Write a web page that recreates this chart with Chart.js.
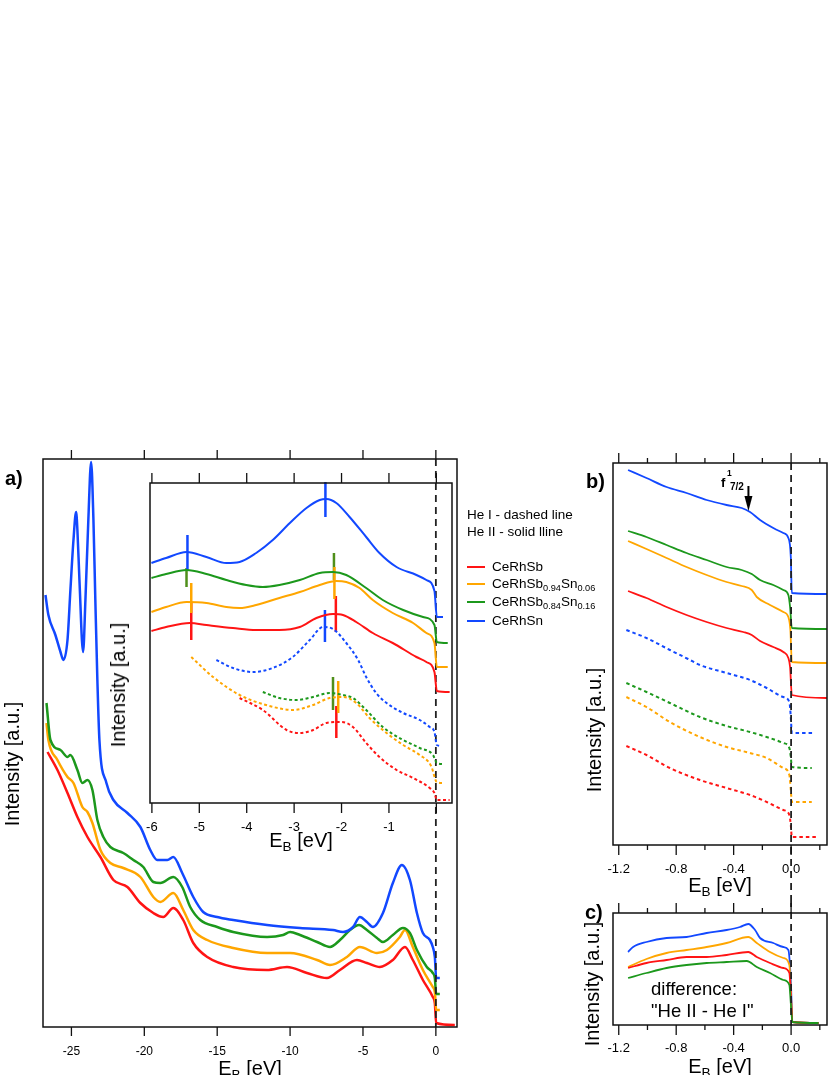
<!DOCTYPE html>
<html>
<head>
<meta charset="utf-8">
<script src="https://cdn.jsdelivr.net/npm/chart.js@4.4.0/dist/chart.umd.min.js"></script>
<style>
  body { margin: 0; background: #fff; }
  #page { position: relative; width: 830px; height: 1075px; overflow: hidden;
          font-family: 'Liberation Sans', Arial, Helvetica, sans-serif; color: #000; }
  canvas { position: absolute; }
  .t { position: absolute; white-space: nowrap; line-height: 1; }
  .rot { transform: translate(-50%, -50%) rotate(-90deg); font-size: 20px; }
  .ttl { transform: translateX(-50%); font-size: 20px; }
  .sub { font-size: 0.68em; position: relative; top: 0.3em; }
  .lg { font-size: 13.5px; }
  .key { position: absolute; left: 467px; width: 18px; height: 2px; }
  .pl { font-size: 20px; font-weight: bold; }
</style>
</head>
<body>
<div id="page">
  <canvas id="mainChart" width="470" height="635" style="left:0;top:440px"></canvas>
  <canvas id="insetChart" width="350" height="400" style="left:120px;top:460px"></canvas>
  <canvas id="bChart" width="250" height="455" style="left:580px;top:445px"></canvas>
  <canvas id="cChart" width="250" height="175" style="left:580px;top:900px"></canvas>

  <div class="t pl" style="left:5px;top:468px">a)</div>
  <div class="t pl" style="left:586px;top:471px">b)</div>
  <div class="t pl" style="left:585px;top:902px">c)</div>

  <div class="t rot" style="left:12px;top:764px">Intensity [a.u.]</div>
  <div class="t rot" style="left:118px;top:685px">Intensity [a.u.]</div>
  <div class="t rot" style="left:594px;top:730px">Intensity [a.u.]</div>
  <div class="t rot" style="left:592px;top:984px">Intensity [a.u.]</div>

  <div class="t ttl" style="left:250px;top:1058px">E<span class="sub">B</span> [eV]</div>
  <div class="t ttl" style="left:301px;top:830px">E<span class="sub">B</span> [eV]</div>
  <div class="t ttl" style="left:720px;top:875px">E<span class="sub">B</span> [eV]</div>
  <div class="t ttl" style="left:720px;top:1056px">E<span class="sub">B</span> [eV]</div>

  <div class="t lg" style="left:467px;top:508px">He I - dashed line</div>
  <div class="t lg" style="left:467px;top:525px">He II - solid lline</div>
  <div class="key" style="top:566px;background:#ff1414"></div>
  <div class="key" style="top:583px;background:#ffa600"></div>
  <div class="key" style="top:601px;background:#1c981c"></div>
  <div class="key" style="top:620px;background:#1248ff"></div>
  <div class="t lg" style="left:492px;top:560px">CeRhSb</div>
  <div class="t lg" style="left:492px;top:577px">CeRhSb<span class="sub">0.94</span>Sn<span class="sub">0.06</span></div>
  <div class="t lg" style="left:492px;top:595px">CeRhSb<span class="sub">0.84</span>Sn<span class="sub">0.16</span></div>
  <div class="t lg" style="left:492px;top:614px">CeRhSn</div>

  <div class="t" style="left:721px;top:476px;font-size:13px;font-weight:bold">f</div>
  <div class="t" style="left:727px;top:469px;font-size:8.5px;font-weight:bold">1</div>
  <div class="t" style="left:730px;top:482px;font-size:10px;font-weight:bold">7/2</div>

  <div class="t" style="left:651px;top:980px;font-size:18.5px">difference:</div>
  <div class="t" style="left:651px;top:1002px;font-size:18.5px">"He II - He I"</div>
</div>

<script>
// ---- panel a) He II valence band, wide range ----
const mainE_sn = [-26.78, -26.58, -26.1, -25.75, -25.55, -25.27, -25.07, -24.86, -24.68, -24.59, -24.45, -24.2, -24.04, -23.84, -23.65, -23.49, -23.36, -23.22, -23.08, -22.6, -22.12, -21.16, -20.27, -19.59, -19.11, -18.42, -18.01, -17.4, -16.64, -15.96, -15.0, -13.9, -11.58, -9.32, -7.05, -6.37, -5.68, -5.21, -4.73, -4.32, -3.63, -2.95, -2.33, -1.78, -1.3, -0.89, -0.41, -0.21, -0.07, 0.02, 0.27];
const mainI_sn = [432, 412, 392, 375, 367, 387, 437, 487, 515, 497, 447, 375, 427, 507, 565, 507, 427, 347, 287, 244, 227, 214, 200, 177, 167, 167, 170, 154, 130, 115, 110, 107, 102, 99, 97, 95, 100, 110, 105, 100, 114, 144, 162, 147, 114, 94, 87, 80, 70, 49, 49];
const mainE_sb84 = [-26.71, -26.44, -25.75, -25.27, -25.07, -24.59, -24.25, -23.9, -23.56, -23.22, -22.81, -22.33, -21.44, -20.75, -20.07, -19.38, -18.9, -18.01, -17.4, -16.85, -16.16, -15.0, -13.9, -11.58, -10.48, -10.0, -9.32, -8.15, -7.26, -6.58, -5.89, -5.27, -4.73, -4.04, -3.63, -2.95, -2.26, -1.78, -1.3, -0.62, -0.21, -0.07, 0.02, 0.27];
const mainI_sb84 = [324, 287, 277, 270, 272, 257, 244, 247, 237, 207, 190, 180, 174, 167, 160, 145, 144, 150, 140, 120, 107, 100, 95, 90, 92, 95, 92, 85, 80, 87, 97, 102, 97, 89, 85, 92, 99, 94, 77, 60, 54, 49, 33, 33];
const mainE_sb94 = [-26.71, -26.58, -25.96, -25.27, -24.86, -24.25, -23.9, -23.56, -23.01, -22.33, -21.44, -20.27, -19.38, -18.9, -18.01, -17.33, -16.64, -15.68, -13.9, -11.58, -10.0, -8.15, -7.26, -6.1, -5.21, -4.04, -3.36, -2.47, -2.12, -1.58, -0.89, -0.21, -0.07, 0.02, 0.27];
const mainI_sb94 = [304, 287, 267, 250, 244, 220, 215, 204, 177, 164, 159, 150, 130, 125, 134, 117, 97, 87, 79, 74, 74, 67, 62, 70, 80, 74, 77, 90, 97, 80, 57, 40, 35, 17, 17];
const mainE_sb = [-26.64, -25.96, -25.27, -24.59, -23.9, -23.01, -22.12, -21.16, -20.27, -19.38, -18.7, -18.01, -17.33, -16.64, -15.68, -13.9, -11.58, -10.21, -8.84, -7.47, -6.58, -5.41, -4.73, -3.84, -2.95, -2.12, -1.58, -0.89, -0.21, -0.07, 0.02, 1.3];
const mainI_sb = [275, 257, 234, 210, 190, 170, 147, 140, 124, 114, 110, 119, 107, 84, 70, 60, 57, 60, 54, 49, 57, 67, 64, 60, 67, 80, 67, 47, 30, 24, 4, 2];

// ---- inset: He II (solid) and He I (dashed) ----
const insE_sn = [-6.01, -5.70, -5.27, -4.85, -4.43, -4.15, -3.80, -3.45, -3.09, -2.74, -2.46, -2.32, -2.11, -1.83, -1.48, -1.20, -0.84, -0.42, -0.21, -0.04, 0.01, 0.14];
const insI_sn = [240, 245, 251, 246, 240, 241, 250, 263, 280, 295, 303, 304, 300, 286, 266, 250, 236, 228, 223, 212, 186, 186];
const insE_sb84 = [-6.01, -5.70, -5.27, -4.85, -4.43, -4.01, -3.66, -3.31, -2.88, -2.46, -2.18, -1.90, -1.48, -1.13, -0.70, -0.28, -0.04, 0.01, 0.24];
const insI_sb84 = [225, 229, 233, 229, 223, 218, 216, 218, 223, 230, 231, 228, 215, 203, 193, 186, 178, 161, 160];
const insE_sb94 = [-6.01, -5.70, -5.27, -4.85, -4.43, -4.15, -3.80, -3.31, -2.88, -2.46, -2.11, -1.90, -1.62, -1.34, -0.92, -0.49, -0.21, -0.04, 0.01, 0.24];
const insI_sb94 = [191, 196, 201, 200, 196, 195, 198, 205, 211, 218, 222, 221, 215, 203, 190, 180, 170, 160, 136, 136];
const insE_sb = [-6.01, -5.70, -5.20, -4.85, -4.29, -3.80, -3.31, -2.88, -2.53, -2.18, -1.97, -1.69, -1.34, -0.92, -0.42, -0.21, -0.04, 0.01, 0.28];
const insI_sb = [172, 176, 180, 178, 175, 173, 173, 176, 185, 189, 188, 181, 170, 160, 146, 141, 131, 112, 111];

const heE_sn = [-4.64, -4.29, -3.87, -3.45, -3.03, -2.67, -2.39, -2.18, -1.90, -1.65, -1.48, -1.27, -1.05, -0.70, -0.35, -0.14, -0.04, 0.01, 0.11];
const heI_sn = [143, 135, 131, 135, 146, 163, 176, 174, 160, 143, 126, 110, 100, 90, 83, 76, 71, 58, 57];
const heE_sb84 = [-3.66, -3.31, -2.95, -2.60, -2.25, -1.97, -1.76, -1.48, -1.13, -0.70, -0.35, -0.07, 0.01, 0.14];
const heI_sb84 = [111, 105, 103, 106, 110, 108, 105, 93, 76, 63, 55, 48, 40, 39];
const heE_sb94 = [-5.17, -4.71, -4.15, -3.59, -3.03, -2.60, -2.25, -1.97, -1.69, -1.41, -1.05, -0.70, -0.35, -0.11, 0.01, 0.14];
const heI_sb94 = [146, 126, 108, 98, 93, 98, 105, 106, 100, 85, 70, 58, 48, 37, 21, 20];
const heE_sb = [-4.15, -3.66, -3.16, -2.88, -2.60, -2.32, -2.00, -1.76, -1.48, -1.20, -0.84, -0.49, -0.14, -0.04, 0.01, 0.28];
const heI_sb = [105, 93, 73, 70, 73, 80, 81, 76, 60, 46, 33, 25, 15, 10, 3, 3];

// peak markers in the inset (energy, bar top, bar bottom)
const peakE_sn = [-5.25, -2.34], peakTop_sn = [268, 321], peakBot_sn = [233, 286];
const peakE_sb84 = [-5.27, -2.16], peakTop_sb84 = [235, 250], peakBot_sb84 = [216, 223];
const peakE_sb94 = [-5.17, -2.15], peakTop_sb94 = [220, 236], peakBot_sb94 = [190, 204];
const peakE_sb = [-5.17, -2.12], peakTop_sb = [200, 207], peakBot_sb = [163, 171];
const hePeakE = [-2.35, -2.18, -2.07, -2.11];
const hePeakTop = [193, 126, 122, 97];
const hePeakBot = [161, 93, 90, 65];

// ---- panel b) near E_F ----
const bE_sn = [-1.135, -1.007, -0.867, -0.728, -0.588, -0.449, -0.344, -0.286, -0.216, -0.124, -0.054, -0.019, -0.002, 0.005, 0.249];
const bI_sn = [375, 367, 358, 352, 345, 340, 337, 333, 325, 317, 312, 307, 288, 252, 251];
const bE_sb84 = [-1.135, -1.007, -0.867, -0.728, -0.588, -0.449, -0.344, -0.274, -0.216, -0.124, -0.054, -0.019, -0.007, 0.005, 0.249];
const bI_sb84 = [314, 308, 300, 292, 285, 278, 275, 271, 265, 260, 255, 250, 238, 217, 216];
const bE_sb94 = [-1.135, -1.007, -0.867, -0.728, -0.588, -0.449, -0.344, -0.274, -0.239, -0.147, -0.054, -0.019, -0.005, 0.005, 0.249];
const bI_sb94 = [304, 296, 287, 278, 270, 263, 259, 255, 248, 240, 233, 228, 215, 183, 182];
const bE_sb = [-1.135, -1.007, -0.867, -0.728, -0.588, -0.449, -0.333, -0.274, -0.216, -0.124, -0.054, -0.019, -0.007, 0.005, 0.249];
const bI_sb = [254, 247, 238, 230, 223, 217, 213, 210, 204, 198, 193, 187, 178, 150, 147];

const bheE_sn = [-1.147, -1.007, -0.844, -0.717, -0.635, -0.449, -0.286, -0.170, -0.054, -0.012, -0.002, 0.005, 0.156];
const bheI_sn = [215, 207, 195, 186, 180, 172, 165, 157, 148, 143, 128, 112, 112];
const bheE_sb84 = [-1.147, -1.007, -0.844, -0.635, -0.449, -0.286, -0.170, -0.054, -0.012, -0.002, 0.005, 0.144];
const bheI_sb84 = [162, 153, 142, 128, 119, 113, 108, 102, 97, 88, 78, 77];
const bheE_sb94 = [-1.147, -1.007, -0.844, -0.635, -0.449, -0.286, -0.170, -0.054, -0.012, -0.002, 0.005, 0.144];
const bheI_sb94 = [148, 138, 123, 108, 98, 92, 87, 77, 70, 55, 43, 43];
const bheE_sb = [-1.147, -1.007, -0.844, -0.635, -0.449, -0.286, -0.170, -0.054, -0.012, -0.002, 0.005, 0.179];
const bheI_sb = [99, 90, 77, 65, 57, 50, 43, 35, 30, 20, 8, 8];

// f 7/2 arrow (energy, start, tip)
const arrowE = -0.297, arrowFrom = 359, arrowTip = 334;

// ---- panel c) difference He II - He I ----
const cE_sn = [-1.135, -1.100, -1.007, -0.867, -0.728, -0.588, -0.449, -0.356, -0.298, -0.251, -0.216, -0.124, -0.054, -0.019, -0.002, 0.009, 0.191];
const cI_sn = [73, 78, 83, 87, 88, 92, 95, 98, 101, 95, 87, 82, 78, 75, 45, 3, 2];
const cE_sb94 = [-1.135, -1.007, -0.867, -0.728, -0.588, -0.449, -0.298, -0.239, -0.147, -0.054, -0.012, -0.002, 0.009, 0.191];
const cI_sb94 = [58, 66, 72, 75, 78, 82, 88, 82, 73, 67, 60, 35, 3, 2];
const cE_sb = [-1.135, -1.007, -0.867, -0.728, -0.588, -0.449, -0.298, -0.239, -0.147, -0.054, -0.012, -0.002, 0.009, 0.191];
const cI_sb = [57, 62, 65, 68, 68, 70, 73, 68, 62, 57, 52, 32, 3, 2];
const cE_sb84 = [-1.135, -1.007, -0.867, -0.728, -0.588, -0.449, -0.309, -0.239, -0.147, -0.054, -0.012, -0.002, 0.009, 0.191];
const cI_sb84 = [47, 52, 57, 60, 62, 63, 64, 58, 52, 45, 40, 22, 3, 2];

const red = '#ff1414', orange = '#ffa600', green = '#1c981c', blue = '#1248ff', olive = '#4f8f1a';

Chart.defaults.font.family = "'Liberation Sans', Arial, Helvetica, sans-serif";
Chart.defaults.color = '#000';

function pts(E, I) {
  return E.map((e, i) => ({ x: e, y: I[i] }));
}

function curve(E, I, color, width, dash) {
  return {
    data: pts(E, I),
    borderColor: color,
    borderWidth: width,
    borderDash: dash || [],
    pointRadius: 0,
    fill: false,
    cubicInterpolationMode: 'monotone',
    clip: 4
  };
}

function bar(e, top, bot, color) {
  return {
    data: [{ x: e, y: bot }, { x: e, y: top }],
    borderColor: color,
    borderWidth: 2.5,
    pointRadius: 0,
    tension: 0,
    clip: 6
  };
}

function xAxis(min, max, step, tickLen, pad, height, size, fmt) {
  return {
    type: 'linear',
    min: min,
    max: max,
    ticks: {
      stepSize: step,
      includeBounds: false,
      autoSkip: false,
      maxRotation: 0,
      padding: pad,
      font: { size: size },
      callback: fmt
    },
    grid: { display: false, drawTicks: true, tickLength: tickLen },
    border: { display: false },
    afterFit(s) { s.height = height; }
  };
}

// frame, outward ticks on top and bottom, dashed E_F line, optional arrow
const framePlugin = {
  id: 'frame',
  afterDatasetsDraw(chart, args, opts) {
    const { ctx, chartArea: a } = chart;
    const x = chart.scales.x;
    const y = chart.scales.y;
    ctx.save();
    if (opts.zero) {
      const zx = x.getPixelForValue(0);
      ctx.strokeStyle = '#222';
      ctx.lineWidth = 1.8;
      ctx.setLineDash([7, 5]);
      ctx.beginPath();
      ctx.moveTo(zx, opts.zeroTop === 'canvas' ? 0 : a.top);
      ctx.lineTo(zx, opts.zeroBottom === 'canvas' ? chart.height : a.bottom);
      ctx.stroke();
      ctx.setLineDash([]);
    }
    ctx.strokeStyle = '#111';
    ctx.lineWidth = 1.5;
    ctx.strokeRect(a.left, a.top, a.right - a.left, a.bottom - a.top);
    ctx.lineWidth = 1.3;
    x.ticks.forEach(t => {
      const px = x.getPixelForValue(t.value);
      let len = opts.len;
      if (opts.majorStep) {
        const r = t.value / opts.majorStep;
        if (Math.abs(r - Math.round(r)) > 1e-6) len = opts.minorLen;
      }
      ctx.beginPath();
      ctx.moveTo(px, a.top);
      ctx.lineTo(px, a.top - len);
      ctx.moveTo(px, a.bottom);
      ctx.lineTo(px, a.bottom + len);
      ctx.stroke();
    });
    if (opts.arrow) {
      const ax = x.getPixelForValue(arrowE);
      const y0 = y.getPixelForValue(arrowFrom);
      const y1 = y.getPixelForValue(arrowTip);
      ctx.strokeStyle = '#000';
      ctx.fillStyle = '#000';
      ctx.lineWidth = 2;
      ctx.beginPath();
      ctx.moveTo(ax, y0);
      ctx.lineTo(ax, y1 - 10);
      ctx.stroke();
      ctx.beginPath();
      ctx.moveTo(ax - 4, y1 - 15);
      ctx.lineTo(ax + 4, y1 - 15);
      ctx.lineTo(ax, y1);
      ctx.closePath();
      ctx.fill();
    }
    ctx.restore();
  }
};

const basePlugins = { legend: { display: false }, tooltip: { enabled: false } };

const mainChart = new Chart(document.getElementById('mainChart'), {
  type: 'line',
  data: {
    datasets: [
      curve(mainE_sn, mainI_sn, blue, 2.5),
      curve(mainE_sb84, mainI_sb84, green, 2.5),
      curve(mainE_sb94, mainI_sb94, orange, 2.5),
      curve(mainE_sb, mainI_sb, red, 2.5)
    ]
  },
  options: {
    animation: false,
    responsive: false,
    layout: { padding: { left: 43, right: 13, top: 19, bottom: 0 } },
    plugins: Object.assign({ frame: { len: 9, zero: true, zeroTop: 'area', zeroBottom: 'area' } }, basePlugins),
    scales: {
      x: xAxis(-26.95, 1.45, 5, 9, 8, 48, 12, v => String(Math.round(v))),
      y: { display: false, min: 0, max: 568 }
    }
  },
  plugins: [framePlugin]
});

const insetSets = [
  curve(heE_sb, heI_sb, red, 2, [3, 2.5]),
  curve(heE_sb94, heI_sb94, orange, 2, [3, 2.5]),
  curve(heE_sb84, heI_sb84, green, 2, [3, 2.5]),
  curve(heE_sn, heI_sn, blue, 2, [3, 2.5]),
  curve(insE_sb, insI_sb, red, 2),
  curve(insE_sb94, insI_sb94, orange, 2),
  curve(insE_sb84, insI_sb84, green, 2),
  curve(insE_sn, insI_sn, blue, 2)
];
[[peakE_sn, peakTop_sn, peakBot_sn, blue],
 [peakE_sb94, peakTop_sb94, peakBot_sb94, orange],
 [peakE_sb, peakTop_sb, peakBot_sb, red],
 [peakE_sb84, peakTop_sb84, peakBot_sb84, olive]].forEach(([E, T, B, c]) => {
  E.forEach((e, i) => insetSets.push(bar(e, T[i], B[i], c)));
});
[blue, olive, orange, red].forEach((c, i) => {
  insetSets.push(bar(hePeakE[i], hePeakTop[i], hePeakBot[i], c));
});

const insetChart = new Chart(document.getElementById('insetChart'), {
  type: 'line',
  data: { datasets: insetSets },
  options: {
    animation: false,
    responsive: false,
    layout: { padding: { left: 30, right: 18, top: 23, bottom: 0 } },
    plugins: Object.assign({ frame: { len: 10, zero: false } }, basePlugins),
    scales: {
      x: xAxis(-6.04, 0.33, 1, 10, 7, 57, 13, v => Math.round(v) === 0 ? '' : String(Math.round(v))),
      y: { display: false, min: 0, max: 320 }
    }
  },
  plugins: [framePlugin]
});

const evFmt = v => {
  const k = Math.round(v * 10);
  return k % 4 === 0 ? (k / 10).toFixed(1) : '';
};

const bChart = new Chart(document.getElementById('bChart'), {
  type: 'line',
  data: {
    datasets: [
      curve(bheE_sb, bheI_sb, red, 2, [3.5, 3]),
      curve(bheE_sb94, bheI_sb94, orange, 2, [3.5, 3]),
      curve(bheE_sb84, bheI_sb84, green, 2, [3.5, 3]),
      curve(bheE_sn, bheI_sn, blue, 2, [3.5, 3]),
      curve(bE_sb, bI_sb, red, 1.8),
      curve(bE_sb94, bI_sb94, orange, 1.8),
      curve(bE_sb84, bI_sb84, green, 1.8),
      curve(bE_sn, bI_sn, blue, 1.8)
    ]
  },
  options: {
    animation: false,
    responsive: false,
    layout: { padding: { left: 33, right: 3, top: 18, bottom: 0 } },
    plugins: Object.assign({ frame: { len: 10, minorLen: 5, majorStep: 0.4, zero: true, zeroTop: 'area', zeroBottom: 'canvas', arrow: true } }, basePlugins),
    scales: {
      x: xAxis(-1.24, 0.25, 0.2, 10, 7, 55, 13, evFmt),
      y: { display: false, min: 0, max: 382 }
    }
  },
  plugins: [framePlugin]
});

const cChart = new Chart(document.getElementById('cChart'), {
  type: 'line',
  data: {
    datasets: [
      curve(cE_sb84, cI_sb84, green, 1.8),
      curve(cE_sb, cI_sb, red, 1.8),
      curve(cE_sb94, cI_sb94, orange, 1.8),
      curve(cE_sn, cI_sn, blue, 1.8)
    ]
  },
  options: {
    animation: false,
    responsive: false,
    layout: { padding: { left: 33, right: 3, top: 13, bottom: 0 } },
    plugins: Object.assign({ frame: { len: 10, minorLen: 5, majorStep: 0.4, zero: true, zeroTop: 'canvas', zeroBottom: 'area' } }, basePlugins),
    scales: {
      x: xAxis(-1.24, 0.25, 0.2, 10, 6, 50, 13, evFmt),
      y: { display: false, min: 0, max: 112 }
    }
  },
  plugins: [framePlugin]
});
</script>
</body>
</html>
